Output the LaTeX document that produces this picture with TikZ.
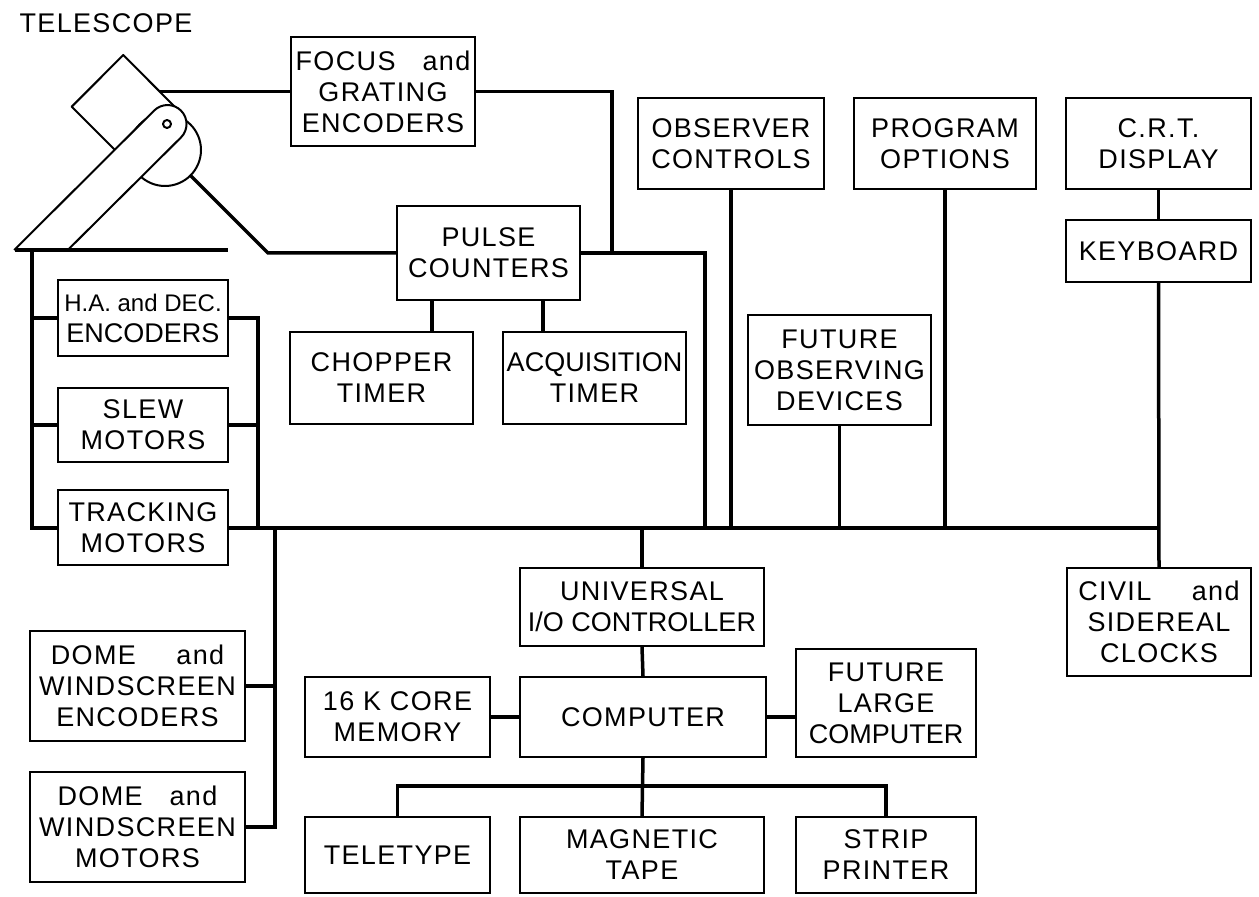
\documentclass[tikz,border=0pt]{standalone}
\usepackage{fontspec}
\setmainfont[LetterSpace=5]{Liberation Sans}
\newcommand{\tight}{\addfontfeature{LetterSpace=0}}

\begin{document}
\begin{tikzpicture}[
    x=0.5pt, y=-0.5pt,
    unit/.style={
        draw, line width=1pt,
        align=center, inner sep=0pt,
        font=\fontsize{13.5}{15.5}\selectfont
    },
    wire/.style={
        line width=1.75pt,
        line join=miter
    },
    outline/.style={
        line width=1pt,
        line join=round
    }
]
    \useasboundingbox (0,0) rectangle (1259,897);

    % Telescope sketch ===========================
    \node[font=\fontsize{13.5}{15.5}\selectfont] (title) at (106,23) {TELESCOPE};

    \draw[outline, fill=white] (123.3,55) -- (71.7,106.7) -- (123.5,158.5) -- (174.5,106.5) -- cycle;
    \draw[outline, fill=white] (165,150) circle[radius=36];
    \draw[outline, fill=white] (14.2,250) -- (154.1,110.6)
        arc[start angle=225, end angle=405, radius=19] -- (67.8,250);
    \draw[outline] (167,124) circle[radius=4];
    \draw[wire] (15,250) -- (228,250);

    \coordinate (tube port) at (159.8,91.5);
    \coordinate (mount) at (190.5,175.5);
    \coordinate (pier) at (32,250);

    % Units ===========================
    \node[unit, minimum width=92pt, minimum height=54.5pt] (focus) at (383,91.5) {
        FOCUS\quad and\\ GRATING\\ ENCODERS};
    \node[unit, minimum width=91.5pt, minimum height=47pt] (pulse) at (488.5,253) {
        PULSE\\ COUNTERS};
    \node[unit, minimum width=91.5pt, minimum height=46pt] (chopper) at (381.5,378) {
        CHOPPER\\ TIMER};
    \node[unit, minimum width=91.5pt, minimum height=46pt] (acq) at (594.5,378) {
        {\tight ACQUISITION}\\ TIMER};

    \node[unit, minimum width=93pt, minimum height=45.5pt] (observer) at (731,143.5) {
        OBSERVER\\ CONTROLS};
    \node[unit, minimum width=91pt, minimum height=45.5pt] (program) at (945,143.5) {
        PROGRAM\\ OPTIONS};
    \node[unit, minimum width=92.5pt, minimum height=45.5pt] (crt) at (1158.5,143.5) {
        C.R.T.\\ DISPLAY};
    \node[unit, minimum width=92.5pt, minimum height=31pt] (keyboard) at (1158.5,251) {
        KEYBOARD};
    \node[unit, minimum width=91.5pt, minimum height=55pt] (futobs) at (839.5,370) {
        FUTURE\\ OBSERVING\\ DEVICES};
    \node[unit, minimum width=92pt, minimum height=54pt] (clocks) at (1159,622) {
        CIVIL\hspace{1.5em}and\\ SIDEREAL\\ CLOCKS};

    \node[unit, minimum width=85pt, minimum height=38pt] (hadec) at (143,318) {
        {\fontsize{12}{15.5}\selectfont\tight H.A. and DEC.}\\ {\tight ENCODERS}};
    \node[unit, minimum width=85pt, minimum height=37pt] (slew) at (143,425) {
        SLEW\\ MOTORS};
    \node[unit, minimum width=85pt, minimum height=37.5pt] (track) at (143,528) {
        TRACKING\\ MOTORS};
    \node[unit, minimum width=107.5pt, minimum height=55pt] (domeenc) at (137.5,686) {
        DOME\hspace{1.5em}and\\ WINDSCREEN\\ ENCODERS};
    \node[unit, minimum width=107.5pt, minimum height=55pt] (domemot) at (137.5,827) {
        DOME\quad and\\ WINDSCREEN\\ MOTORS};

    \node[unit, minimum width=122pt, minimum height=39pt] (uio) at (642,607) {
        UNIVERSAL\\ {\tight I/O CONTROLLER}};
    \node[unit, minimum width=123pt, minimum height=40pt] (computer) at (643,717) {
        COMPUTER};
    \node[unit, minimum width=92.5pt, minimum height=40pt] (core) at (397.5,717) {
        16 K CORE\\ MEMORY};
    \node[unit, minimum width=90pt, minimum height=54pt] (futlarge) at (886,703) {
        FUTURE\\ LARGE\\ {\tight COMPUTER}};
    \node[unit, minimum width=92.5pt, minimum height=38pt] (teletype) at (397.5,855) {
        TELETYPE};
    \node[unit, minimum width=122pt, minimum height=38pt] (tape) at (642,855) {
        MAGNETIC\\ TAPE};
    \node[unit, minimum width=90pt, minimum height=38pt] (strip) at (886,855) {
        STRIP\\ PRINTER};

    % Junctions on the lines ====================
    \coordinate (bus end) at (1159,528);
    \coordinate (rail) at (258,528);
    \coordinate (dome rail) at (275,528);
    \coordinate (focus tap) at (612,253);
    \coordinate (pulse drop) at (705,528);
    \coordinate (out bus) at (642,786);

    % Wiring ====================
    % telescope to focus encoders and pulse counters
    \draw[wire] (tube port) -- (focus.west);
    \draw[wire] (mount) -- (268,253) -- (pulse.west);
    \draw[wire] (focus.east) -| (focus tap);
    \draw[wire] (pulse.east) -| (pulse drop);
    \draw[wire] (432,0 |- pulse.south) -- (432,0 |- chopper.north);
    \draw[wire] (543,0 |- pulse.south) -- (543,0 |- acq.north);

    % mount drives
    \draw[wire] (pier) |- (track.west);
    \draw[wire] (hadec.west) -- (hadec.west -| pier);
    \draw[wire] (slew.west) -- (slew.west -| pier);
    \draw[wire] (hadec.east) -| (rail);
    \draw[wire] (slew.east) -- (slew.east -| rail);

    % main bus
    \draw[wire] (track.east) -- (bus end);
    \draw[wire] (dome rail) |- (domemot.east);
    \draw[wire] (domeenc.east) -- (domeenc.east -| dome rail);
    \draw[wire] (observer.south) -- (observer.south |- bus end);
    \draw[wire] (program.south) -- (program.south |- bus end);
    \draw[wire] (futobs.south) -- (futobs.south |- bus end);
    \draw[wire] (crt.south) -- (keyboard.north);
    \draw[wire] (keyboard.south) -- (clocks.north);
    \draw[wire] (uio.north) -- (uio.north |- bus end);

    % computer and peripherals
    \draw[wire] (uio.south) -- (computer.north);
    \draw[wire] (core.east) -- (computer.west);
    \draw[wire] (computer.east) -- (computer.east -| futlarge.west);
    \draw[wire] (computer.south) -- (tape.north);
    \draw[wire] (teletype.north) |- (out bus) -| (strip.north);

\end{tikzpicture}
\end{document}
